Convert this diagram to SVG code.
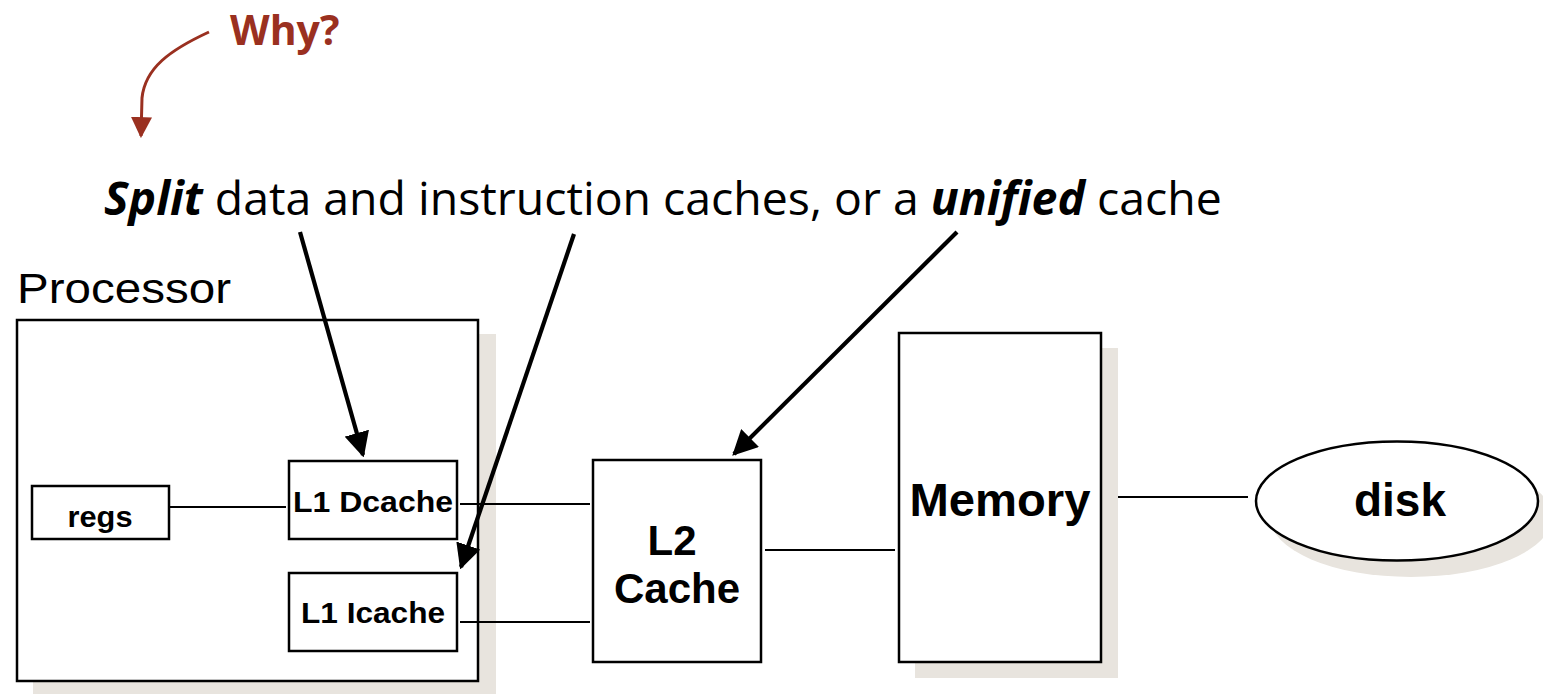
<svg xmlns="http://www.w3.org/2000/svg" width="1543" height="694" viewBox="0 0 1543 694">
  <defs>
    <marker id="blackHead" viewBox="0 0 10 10" refX="9" refY="5" markerWidth="6" markerHeight="6" orient="auto" markerUnits="strokeWidth">
      <path d="M0,0 L10,5 L0,10 z" fill="#000"/>
    </marker>
    <marker id="redHead" viewBox="0 0 10 10" refX="9" refY="5" markerWidth="7" markerHeight="7" orient="auto" markerUnits="strokeWidth">
      <path d="M0,0 L10,5 L0,10 z" fill="#9A3020"/>
    </marker>
  </defs>
  <style>
    .box { fill: #fff; stroke: #000; stroke-width: 2.5; }
    .shadow { fill: #E8E4DE; stroke: none; }
    .link { stroke: #000; stroke-width: 2.2; fill: none; }
    .pointer { stroke: #000; stroke-width: 4.2; fill: none; marker-end: url(#blackHead); }
    .lbl { font-family: "Liberation Sans", Arial, sans-serif; font-weight: bold; fill: #000; text-anchor: middle; }
    .caption { font-family: "Open Sans", "Noto Sans", sans-serif; font-size: 46.4px; fill: #000; }
  </style>

  <rect width="1543" height="694" fill="#fff"/>

  <!-- question callout -->
  <g id="why">
    <text x="230" y="45" font-family="Open Sans, Noto Sans, sans-serif" font-weight="bold" font-size="41" fill="#9A3020">Why?</text>
    <path d="M209,32 C170,50 145,68 142,98 L141,136" stroke="#9A3020" stroke-width="3" fill="none" marker-end="url(#redHead)"/>
  </g>

  <!-- headline -->
  <g id="caption">
    <text class="caption" x="104" y="215"><tspan font-weight="bold" font-style="italic">Split</tspan> data and instruction caches, or a <tspan font-weight="bold" font-style="italic">unified</tspan> cache</text>
  </g>

  <!-- processor -->
  <g id="processor">
    <text x="17" y="303" font-family="Liberation Sans, Arial, sans-serif" font-size="43" fill="#000" textLength="214" lengthAdjust="spacingAndGlyphs">Processor</text>
    <rect class="shadow" x="33" y="334" width="463" height="360"/>
    <rect class="box" x="17" y="320" width="461" height="361"/>
  </g>

  <g id="regs">
    <rect class="box" x="32" y="486" width="137" height="53"/>
    <text class="lbl" x="100" y="527" font-size="30" textLength="65" lengthAdjust="spacingAndGlyphs">regs</text>
  </g>

  <g id="l1d">
    <rect class="box" x="289" y="461" width="168" height="78"/>
    <text class="lbl" x="373" y="512" font-size="29" textLength="160" lengthAdjust="spacingAndGlyphs">L1 Dcache</text>
  </g>

  <g id="l1i">
    <rect class="box" x="289" y="573" width="168" height="78"/>
    <text class="lbl" x="373" y="623" font-size="29" textLength="144" lengthAdjust="spacingAndGlyphs">L1 Icache</text>
  </g>

  <g id="l2">
    <rect class="box" x="593" y="460" width="168" height="202"/>
    <text class="lbl" x="672" y="555" font-size="42">L2</text>
    <text class="lbl" x="677" y="603" font-size="42">Cache</text>
  </g>

  <g id="memory">
    <rect class="shadow" x="915" y="348" width="203" height="330"/>
    <rect class="box" x="899" y="333" width="202" height="329"/>
    <text class="lbl" x="1000" y="516" font-size="46" textLength="181" lengthAdjust="spacingAndGlyphs">Memory</text>
  </g>

  <g id="disk">
    <ellipse class="shadow" cx="1411" cy="517" rx="141" ry="60"/>
    <ellipse class="box" cx="1397" cy="501" rx="141" ry="59.5"/>
    <text class="lbl" x="1400" y="516" font-size="46">disk</text>
  </g>

  <!-- connectors -->
  <g id="connectors">
    <line class="link" x1="169" y1="507" x2="286" y2="507"/>
    <line class="link" x1="460" y1="504" x2="590" y2="504"/>
    <line class="link" x1="460" y1="622" x2="590" y2="622"/>
    <line class="link" x1="765" y1="550" x2="895" y2="550"/>
    <line class="link" x1="1118" y1="497" x2="1248" y2="497"/>
    <line class="pointer" x1="300" y1="232" x2="363" y2="455"/>
    <line class="pointer" x1="574" y1="234" x2="461" y2="567"/>
    <line class="pointer" x1="957" y1="232" x2="734" y2="454"/>
  </g>
</svg>
